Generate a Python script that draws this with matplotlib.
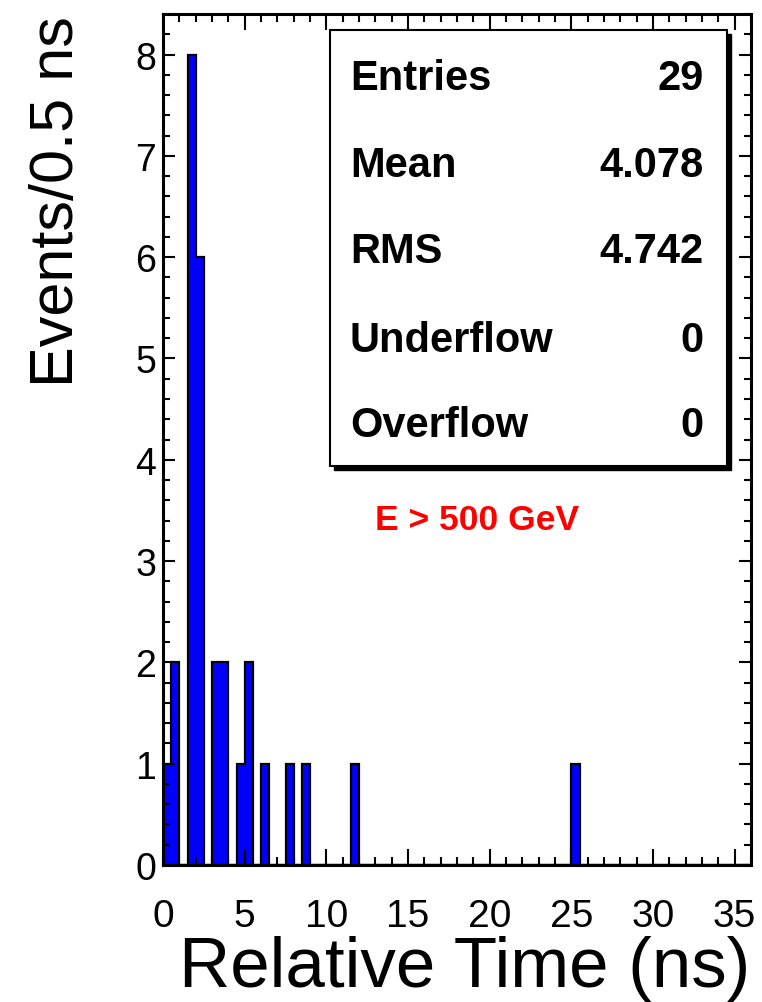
import matplotlib
matplotlib.use("Agg")
import matplotlib.pyplot as plt
from matplotlib.patches import Rectangle
import numpy as np

plt.rcParams["font.family"] = ["Liberation Sans", "DejaVu Sans"]

# histogram content (bin centres in ns, counts per 0.5 ns bin)
bin_centers = [0.25, 0.75, 1.75, 2.25, 3.25, 3.75, 4.75, 5.25, 6.25, 7.75, 8.75, 11.75, 25.25]
bin_counts = [1, 2, 8, 6, 2, 2, 1, 2, 1, 1, 1, 1, 1]
x_lo, x_hi, bin_w = 0.0, 36.0, 0.5
y_max = 8.4

stat_names = ["Entries", "Mean", "RMS", "Underflow", "Overflow"]
stat_values = ["29", "4.078", "4.742", "0", "0"]

fig = plt.figure(figsize=(7.62, 10.03), dpi=100)
ax = fig.add_axes([163 / 762, 1 - 866 / 1003, 588 / 762, 851 / 1003])

edges = np.arange(x_lo, x_hi + bin_w / 2, bin_w)
ax.hist(bin_centers, bins=edges, weights=bin_counts, histtype="stepfilled",
        facecolor="#0000ff", edgecolor="black", linewidth=1.6)

ax.set_xlim(x_lo, x_hi)
ax.set_ylim(0, y_max)
ax.set_xticks(np.arange(0, 36, 5))
ax.set_xticks(np.arange(0, 37, 1), minor=True)
ax.set_yticks(np.arange(0, 9, 1))
ax.set_yticks(np.arange(0, 8.41, 0.2), minor=True)

ax.tick_params(axis="both", which="both", direction="in", top=True, right=True, width=1.5)
ax.tick_params(axis="x", which="major", length=11.5, pad=24, labelsize=28)
ax.tick_params(axis="x", which="minor", length=5.8)
ax.tick_params(axis="y", which="major", length=8.6, pad=5, labelsize=27)
ax.tick_params(axis="y", which="minor", length=5)
for s in ax.spines.values():
    s.set_linewidth(2.2)

fig.text(750 / 762, 1 - 987 / 1003, "Relative Time (ns)", fontsize=51,
         ha="right", va="baseline")
fig.text(57 / 762, 1 - 16 / 1003, "Events/0.5 ns", fontsize=44,
         rotation=90, ha="center", va="top")

# stats box with shadow
bx0, bx1 = 330 / 762, 727 / 762
by0, by1 = 1 - 467 / 1003, 1 - 31 / 1003
sh_dx, sh_dy = 4 / 762, 4 / 1003
fig.add_artist(Rectangle((bx0 + sh_dx, by0 - sh_dy), bx1 - bx0, by1 - by0,
                         transform=fig.transFigure, facecolor="black",
                         edgecolor="black", zorder=5))
fig.add_artist(Rectangle((bx0, by0), bx1 - bx0, by1 - by0,
                         transform=fig.transFigure, facecolor="white",
                         edgecolor="black", linewidth=1.5, zorder=6))

baselines = [90, 177, 263, 352, 437]
for name, val, yb in zip(stat_names, stat_values, baselines):
    fig.text(350 / 762, 1 - yb / 1003, name, fontsize=30, fontweight="bold",
             ha="left", va="baseline", zorder=7)
    fig.text(704 / 762, 1 - yb / 1003, val, fontsize=30, fontweight="bold",
             ha="right", va="baseline", zorder=7)

ax.text((375 - 163) / 588, (866 - 530) / 851, "E > 500 GeV", transform=ax.transAxes,
        color="#ff0000", fontsize=25.5, fontweight="bold", ha="left", va="baseline")

fig.savefig("out.png", dpi=100)
